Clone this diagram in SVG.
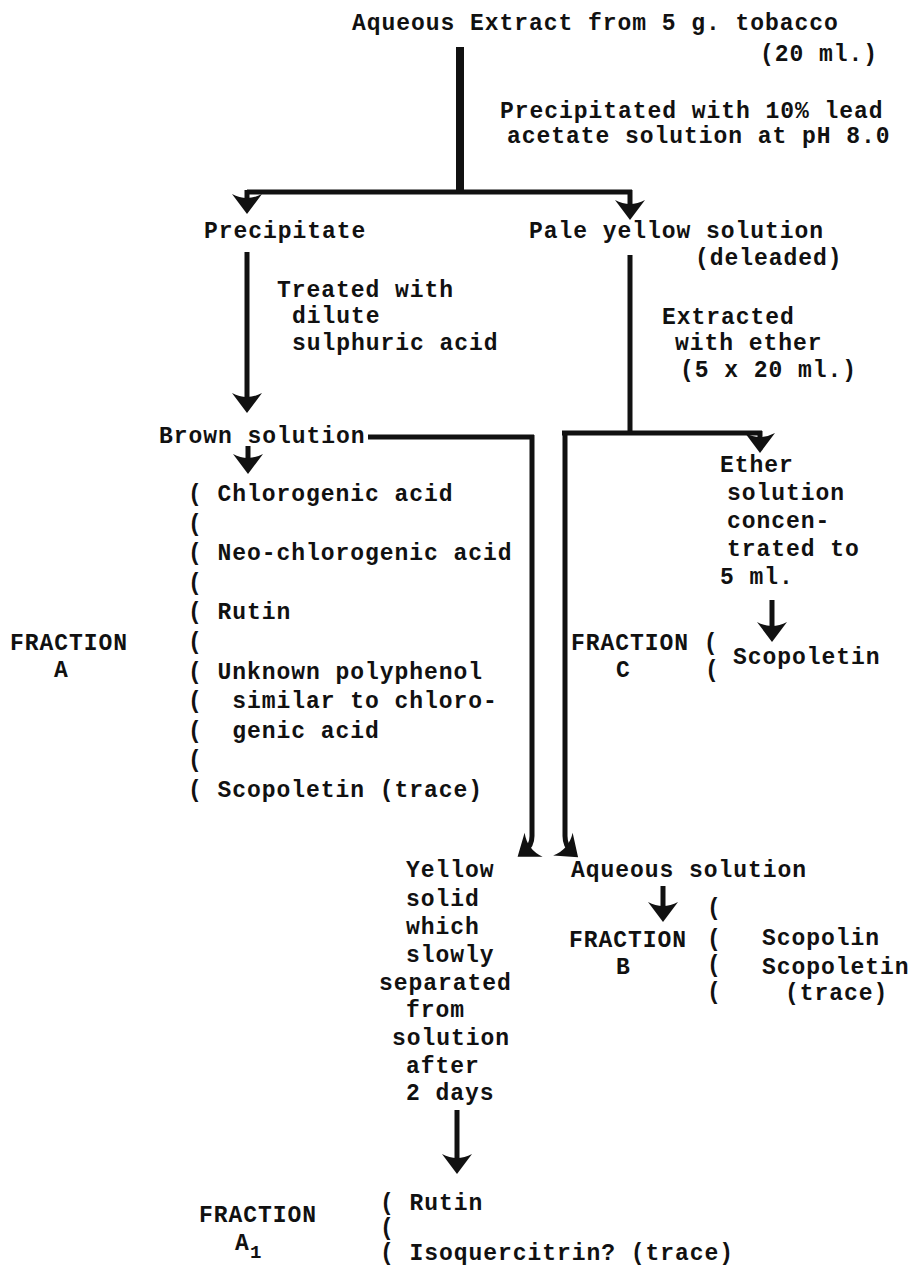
<svg xmlns="http://www.w3.org/2000/svg" width="912" height="1275" viewBox="0 0 912 1275">
<style>
text{font-family:"Liberation Mono","DejaVu Sans Mono",monospace;font-size:23px;font-weight:bold;letter-spacing:0.95px;fill:#111;white-space:pre}
.ln{fill:none;stroke:#111;stroke-width:5;stroke-linecap:butt;stroke-linejoin:miter}
.thick{stroke-width:8}
.ah{marker-end:url(#head)}
</style>
<defs>
<marker id="head" markerUnits="userSpaceOnUse" viewBox="-22 -16 32 32" refX="-8" refY="0" markerWidth="32" markerHeight="32" orient="auto">
<path d="M0,0 L-20,-15 Q-12,0 -20,15 Z" fill="#111"/>
</marker>
</defs>
<rect width="912" height="1275" fill="#fff"/>
<g id="connectors">
<path class="ln thick" d="M460,47 V192"/>
<path class="ln" d="M247,192 H632"/>
<path class="ln ah" d="M247,190 V206"/>
<path class="ln ah" d="M630,190 V212"/>
<path class="ln ah" d="M247,252 V405"/>
<path class="ln" d="M630,255 V435"/>
<path class="ln" d="M368,437 H534"/>
<path class="ln ah" d="M532,435 V836 Q532,846 524,852"/>
<path class="ln" d="M562,433 H762"/>
<path class="ln ah" d="M760,431 V445"/>
<path class="ln ah" d="M565,431 V836 Q565,846 572,852"/>
<path class="ln ah" d="M248,446 V466"/>
<path class="ln ah" d="M772,600 V634"/>
<path class="ln ah" d="M663,886 V914"/>
<path class="ln ah" d="M457,1110 V1166"/>
</g>
<g id="n-extract">
<text x="352" y="30">Aqueous Extract from 5 g. tobacco</text>
<text x="760" y="61">(20 ml.)</text>
</g>
<g id="l-precip">
<text x="500" y="118">Precipitated with 10% lead</text>
<text x="507" y="143">acetate solution at pH 8.0</text>
</g>
<g id="n-precipitate"><text x="204" y="238">Precipitate</text></g>
<g id="n-pale">
<text x="529" y="238">Pale yellow solution</text>
<text x="695" y="265">(deleaded)</text>
</g>
<g id="l-treated">
<text x="277" y="297">Treated with</text>
<text x="292" y="323">dilute</text>
<text x="292" y="350">sulphuric acid</text>
</g>
<g id="l-extracted">
<text x="662" y="324">Extracted</text>
<text x="675" y="350">with ether</text>
<text x="680" y="377">(5 x 20 ml.)</text>
</g>
<g id="n-brown"><text x="159" y="443">Brown solution</text></g>
<g id="n-fraction-a">
<text x="188" y="501">( Chlorogenic acid</text>
<text x="188" y="531">(</text>
<text x="188" y="560">( Neo-chlorogenic acid</text>
<text x="188" y="590">(</text>
<text x="188" y="619">( Rutin</text>
<text x="188" y="649">(</text>
<text x="188" y="679">( Unknown polyphenol</text>
<text x="188" y="708">(  similar to chloro-</text>
<text x="188" y="738">(  genic acid</text>
<text x="188" y="767">(</text>
<text x="188" y="797">( Scopoletin (trace)</text>
<text x="10" y="650">FRACTION</text>
<text x="54" y="677">A</text>
</g>
<g id="n-ether">
<text x="720" y="472">Ether</text>
<text x="727" y="500">solution</text>
<text x="727" y="528">concen-</text>
<text x="727" y="556">trated to</text>
<text x="720" y="584">5 ml.</text>
</g>
<g id="n-fraction-c">
<text x="571" y="650">FRACTION (</text>
<text x="616" y="677">C</text>
<text x="705" y="677">(</text>
<text x="733" y="664">Scopoletin</text>
</g>
<g id="n-yellow">
<text x="406" y="877">Yellow</text>
<text x="406" y="906">solid</text>
<text x="406" y="934">which</text>
<text x="406" y="962">slowly</text>
<text x="379" y="990">separated</text>
<text x="406" y="1017">from</text>
<text x="392" y="1045">solution</text>
<text x="406" y="1073">after</text>
<text x="406" y="1100">2 days</text>
</g>
<g id="n-aqueous"><text x="571" y="877">Aqueous solution</text></g>
<g id="n-fraction-b">
<text x="569" y="947">FRACTION</text>
<text x="616" y="974">B</text>
<text x="707" y="915">(</text>
<text x="707" y="946">(</text>
<text x="707" y="972">(</text>
<text x="707" y="999">(</text>
<text x="762" y="945">Scopolin</text>
<text x="762" y="974">Scopoletin</text>
<text x="785" y="1000">(trace)</text>
</g>
<g id="n-fraction-a1">
<text x="380" y="1210">( Rutin</text>
<text x="380" y="1235">(</text>
<text x="380" y="1260">( Isoquercitrin? (trace)</text>
<text x="199" y="1222">FRACTION</text>
<text x="235" y="1250">A</text>
<text x="250" y="1258" style="font-size:19px">1</text>
</g>
</svg>
